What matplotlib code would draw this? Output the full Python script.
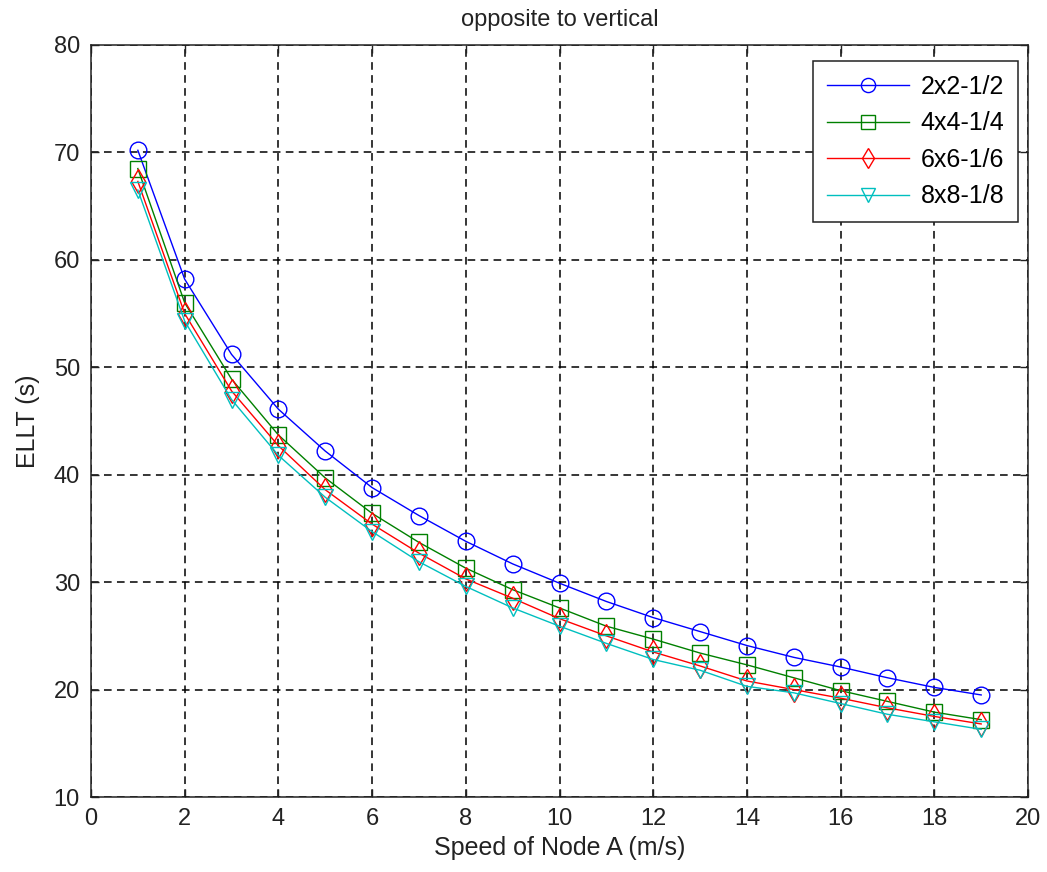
import matplotlib
matplotlib.use("Agg")
import matplotlib.pyplot as plt

speed = list(range(1, 20))
s_2x2 = [70.2, 58.2, 51.2, 46.1, 42.2, 38.8, 36.2, 33.8, 31.7, 29.9, 28.2, 26.7, 25.4, 24.1, 23.0, 22.1, 21.1, 20.2, 19.5]
s_4x4 = [68.5, 56.0, 48.9, 43.7, 39.7, 36.4, 33.7, 31.3, 29.3, 27.6, 25.9, 24.7, 23.4, 22.3, 21.1, 19.9, 18.9, 17.9, 17.2]
s_6x6 = [67.3, 55.0, 47.8, 42.7, 38.6, 35.4, 32.7, 30.3, 28.5, 26.6, 25.0, 23.5, 22.2, 20.8, 20.0, 19.2, 18.3, 17.5, 16.8]
s_8x8 = [66.5, 54.3, 47.0, 41.8, 37.9, 34.7, 31.9, 29.6, 27.6, 25.9, 24.3, 22.8, 21.8, 20.3, 19.7, 18.7, 17.7, 17.0, 16.3]
labels = ["2x2-1/2", "4x4-1/4", "6x6-1/6", "8x8-1/8"]
xticks = list(range(0, 21, 2))
yticks = list(range(10, 81, 10))

plt.rcParams['font.family'] = ['Liberation Sans', 'DejaVu Sans']

fig = plt.figure(figsize=(10.47, 8.72), dpi=100)
ax = fig.add_axes([0.0869, 0.086, 0.8950, 0.8624])

styles = [
    dict(color='#0000ff', marker='o', ms=12),
    dict(color='#008000', marker='s', ms=12),
    dict(color='#ff0000', marker='d', ms=12),
    dict(color='#00bfbf', marker='v', ms=12),
]
for ys, lab, st in zip([s_2x2, s_4x4, s_6x6, s_8x8], labels, styles):
    ax.plot(speed, ys, color=st['color'], marker=st['marker'], markersize=st['ms'],
            markerfacecolor='none', markeredgecolor=st['color'], markeredgewidth=1.0,
            linewidth=1.0, label=lab)

ax.set_xlim(0, 20)
ax.set_ylim(10, 80)
ax.set_xticks(xticks)
ax.set_yticks(yticks)
ax.grid(True, color='black', linestyle=(0, (5, 3.5)), linewidth=1.1)
ax.set_axisbelow(True)
ax.tick_params(direction='in', length=6, width=1, top=True, right=True,
               labelsize=17, pad=8, colors='#222222')
for sp in ax.spines.values():
    sp.set_linewidth(1.1)
    sp.set_color('#222222')

ax.set_title("opposite to vertical", fontsize=17, pad=14, color='#222222')
ax.set_xlabel("Speed of Node A (m/s)", fontsize=18, labelpad=4, color='#222222')
ax.set_ylabel("ELLT (s)", fontsize=18, labelpad=10, color='#222222')

leg = ax.legend(loc='upper right', bbox_to_anchor=(0.9893, 0.9787), fontsize=18,
                frameon=True, fancybox=False,
                edgecolor='#222222', borderpad=0.55, handlelength=3.3, markerscale=0.85,
                labelspacing=0.5, borderaxespad=0.0, handletextpad=0.45)
leg.get_frame().set_linewidth(1.1)
leg.get_frame().set_alpha(1)

fig.savefig("out.png", dpi=100, facecolor='white')
